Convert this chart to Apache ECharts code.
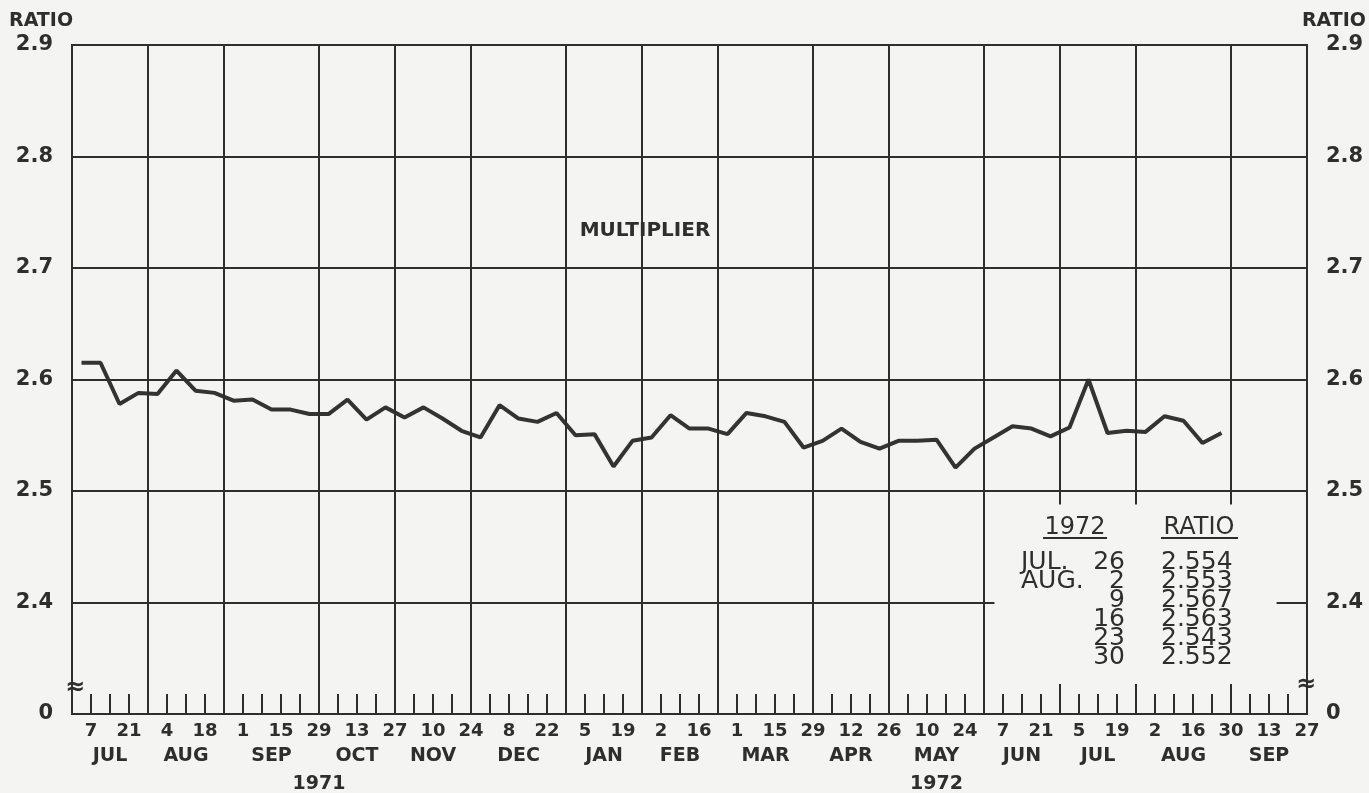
<!DOCTYPE html>
<html><head><meta charset="utf-8">
<script src="https://cdn.jsdelivr.net/npm/echarts@6/dist/echarts.min.js"></script>
<style>html,body{margin:0;padding:0;background:#f4f4f2}#c{width:1369px;height:793px}</style>
</head><body><div id="c"></div>
<script>
// weekly tick dates (Wednesdays), day of month, from Jun 30 1971 to Sep 27 1972
const tickDays = [30,7,14,21,28,4,11,18,25,1,8,15,22,29,6,13,20,27,3,10,17,24,1,8,15,22,29,
  5,12,19,26,2,9,16,23,1,8,15,22,29,5,12,19,26,3,10,17,24,31,7,14,21,28,5,12,19,26,2,9,16,23,30,6,13,20,27];
// month boundaries in week-tick index
const monthBounds = [0,4,8,13,17,21,26,30,34,39,43,48,52,56,61,65];
const monthNames = ['JUL','AUG','SEP','OCT','NOV','DEC','JAN','FEB','MAR','APR','MAY','JUN','JUL','AUG','SEP'];
const yearBounds = [0,26,65];
const yearNames = ['1971','1972'];
// multiplier ratio, weeks ending Jul 7 1971 ... Aug 30 1972
const ratioValues = [2.615,2.615,2.578,2.588,2.587,2.608,2.590,2.588,2.581,2.582,
  2.573,2.573,2.569,2.569,2.582,2.564,2.575,2.566,2.575,2.565,
  2.554,2.548,2.577,2.565,2.562,2.570,2.550,2.551,2.522,2.545,
  2.548,2.568,2.556,2.556,2.551,2.570,2.567,2.562,2.539,2.545,
  2.556,2.544,2.538,2.545,2.545,2.546,2.521,2.538,2.548,2.558,
  2.556,2.549,2.557,2.600,2.552,2.554,2.553,2.567,2.563,2.543,2.552];
const yMin = 2.3, yMax = 2.9, yStep = 0.1;
const tableMonths = ['JUL.','AUG.','','','',''];
const tableDays = ['26','2','9','16','23','30'];
const tableRatios = ['2.554','2.553','2.567','2.563','2.543','2.552'];

const BG = '#f4f4f2', INK = '#2e2e2e', FONT = 'DejaVu Sans';
const chart = echarts.init(document.getElementById('c'));

const lineData = ratioValues.map((v, i) => [i + 0.5, v]);
const gl = [];
const seg = (x1, y1, x2, y2) => gl.push([{coord: [x1, y1]}, {coord: [x2, y2]}]);
[2.5, 2.6, 2.7, 2.8].forEach(y => seg(0, y, 65, y));
seg(0, 2.4, 48.55, 2.4); seg(63.4, 2.4, 65, 2.4);
monthBounds.slice(1, -1).forEach(b => {
  if (b <= 48) seg(b, yMin, b, yMax);
  else { seg(b, 2.488, b, yMax); seg(b, yMin, b, yMin + 0.027); }
});

const near = (a, b) => Math.abs(a - b) < 1e-6;
const yLabel = v => near(v, yMin) ? '0' : v.toFixed(1);
const txt = {fontFamily: FONT, color: INK, fontWeight: 'bold'};
const B = 'bold ';

const graphics = [
  {type: 'text', left: 9, top: 12, style: {text: 'RATIO', font: B + '19px ' + FONT, fill: INK}},
  {type: 'text', right: 3, top: 12, style: {text: 'RATIO', font: B + '19px ' + FONT, fill: INK}},
  {type: 'text', x: 645, y: 231, style: {text: 'MULTIPLIER', font: B + '20px ' + FONT, fill: INK, align: 'center', verticalAlign: 'middle', backgroundColor: BG, padding: [3, 4]}},
  {type: 'text', x: 75, y: 688, style: {text: '≈', font: B + '24px ' + FONT, fill: INK, align: 'center', verticalAlign: 'middle'}},
  {type: 'text', x: 1306, y: 685, style: {text: '≈', font: B + '24px ' + FONT, fill: INK, align: 'center', verticalAlign: 'middle'}},
  {type: 'text', x: 1075, y: 528, style: {text: '1972', font: '24px ' + FONT, fill: INK, align: 'center', verticalAlign: 'middle'}},
  {type: 'text', x: 1199, y: 528, style: {text: 'RATIO', font: '24px ' + FONT, fill: INK, align: 'center', verticalAlign: 'middle'}},
  {type: 'line', shape: {x1: 1043, y1: 538, x2: 1107, y2: 538}, style: {stroke: INK, lineWidth: 2}},
  {type: 'line', shape: {x1: 1161, y1: 538, x2: 1238, y2: 538}, style: {stroke: INK, lineWidth: 2}}
];
tableDays.forEach((d, i) => {
  const y = 562 + i * 19;
  if (tableMonths[i]) graphics.push({type: 'text', x: 1021, y, style: {text: tableMonths[i], font: '25px ' + FONT, fill: INK, align: 'left', verticalAlign: 'middle'}});
  graphics.push({type: 'text', x: 1125, y, style: {text: d, font: '25px ' + FONT, fill: INK, align: 'right', verticalAlign: 'middle'}});
  graphics.push({type: 'text', x: 1161, y, style: {text: tableRatios[i], font: '25px ' + FONT, fill: INK, align: 'left', verticalAlign: 'middle'}});
});

const option = {
  backgroundColor: BG,
  animation: false,
  grid: {left: 72, right: 62, top: 45, bottom: 79, outerBoundsMode: 'none', containLabel: false,
         show: true, borderColor: INK, borderWidth: 2, backgroundColor: 'transparent'},
  xAxis: [
    {type: 'value', min: 0, max: 65, interval: 1,
     axisLine: {lineStyle: {color: INK, width: 2}},
     axisTick: {inside: true, length: 20, lineStyle: {color: INK, width: 2}},
     splitLine: {show: false},
     axisLabel: Object.assign({fontSize: 18, margin: 8, formatter: v => { const k = Math.round(v); return k % 2 === 1 ? String(tickDays[k]) : ''; }}, txt)},
    {type: 'value', min: 0, max: 65, interval: 0.5, position: 'bottom',
     axisLine: {show: false}, axisTick: {show: false}, splitLine: {show: false},
     axisLabel: Object.assign({fontSize: 19, margin: 33, formatter: v => {
       for (let m = 0; m < monthNames.length; m++) if (near((monthBounds[m] + monthBounds[m + 1]) / 2, v)) return monthNames[m];
       return ''; }}, txt)},
    {type: 'value', min: 0, max: 65, interval: 0.5, position: 'bottom',
     axisLine: {show: false}, axisTick: {show: false}, splitLine: {show: false},
     axisLabel: Object.assign({fontSize: 19, margin: 61, formatter: v => {
       for (let m = 0; m < yearNames.length; m++) if (near((yearBounds[m] + yearBounds[m + 1]) / 2, v)) return yearNames[m];
       return ''; }}, txt)}
  ],
  yAxis: [
    {type: 'value', min: yMin, max: yMax, interval: yStep, position: 'left',
     axisLine: {show: true, lineStyle: {color: INK, width: 2}}, axisTick: {show: false}, splitLine: {show: false},
     axisLabel: Object.assign({fontSize: 21, margin: 19, formatter: yLabel}, txt)},
    {type: 'value', min: yMin, max: yMax, interval: yStep, position: 'right',
     axisLine: {show: true, lineStyle: {color: INK, width: 2}}, axisTick: {show: false}, splitLine: {show: false},
     axisLabel: Object.assign({fontSize: 21, margin: 19, formatter: yLabel}, txt)}
  ],
  series: [
    {type: 'line', data: [], z: 1, silent: true,
     markLine: {silent: true, symbol: ['none', 'none'], label: {show: false}, animation: false,
       lineStyle: {color: INK, width: 2, type: 'solid'}, emphasis: {disabled: true}, data: gl}},
    {type: 'line', data: lineData, z: 3, showSymbol: false, symbol: 'none',
     lineStyle: {color: '#333', width: 4}}
  ],
  graphic: graphics
};
chart.setOption(option);
</script></body></html>
